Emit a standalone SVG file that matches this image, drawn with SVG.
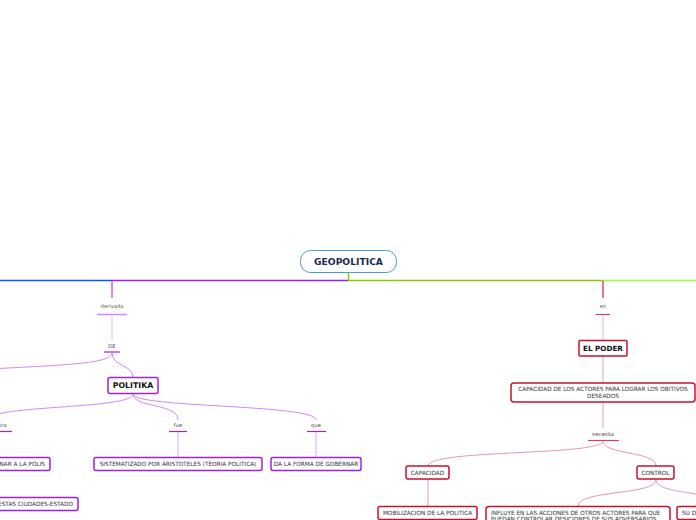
<svg xmlns="http://www.w3.org/2000/svg" width="696" height="520" viewBox="0 0 696 520">
<style>
text{font-family:"DejaVu Sans","Verdana",sans-serif;text-anchor:middle}
.lbl{font-size:5.2px;fill:#556655}
.bt{font-size:5.75px;fill:#333}
.pb{fill:#fff;stroke:#9d1ef0;stroke-width:1.5}
.rb{fill:#fff;stroke:#c8102e;stroke-width:1.5}
.pc{fill:none;stroke:#cc88ff;stroke-width:1}
.rc{fill:none;stroke:#e899a8;stroke-width:1}
</style>
<rect width="696" height="520" fill="#fff"/>
<g id="connectors">
<line x1="0" y1="280.5" x2="112" y2="280.5" stroke="#1155ee" stroke-width="1.5"/>
<line x1="112" y1="280.5" x2="348" y2="280.5" stroke="#9d1ef0" stroke-width="1.5"/>
<line x1="348" y1="280.5" x2="603" y2="280.5" stroke="#88c800" stroke-width="1.5"/>
<line x1="603" y1="280.5" x2="696" y2="280.5" stroke="#99ff33" stroke-width="1.5"/>
<line x1="348.5" y1="272" x2="348.5" y2="280" stroke="#88c800" stroke-width="1.5"/>
<line x1="112" y1="281" x2="112" y2="298" stroke="#bb66ff" stroke-width="1.5"/>
<line x1="97" y1="314.5" x2="127" y2="314.5" stroke="#cc88ff" stroke-width="1.5"/>
<line x1="112" y1="316" x2="112" y2="340" stroke="#e0b8ff" stroke-width="1"/>
<line x1="104" y1="352" x2="120" y2="352" stroke="#9d1ef0" stroke-width="1.2"/>
<path class="pc" d="M112,353 C112,364 60,365 -10,369"/>
<path class="pc" d="M112,353 C112,366 133,365 133,377"/>
<path class="pc" d="M133,394 C133,409 0,405 -10,418"/>
<path class="pc" d="M133,394 C133,408 178,403 178,420"/>
<path class="pc" d="M133,394 C133,408 316,404 316,420"/>
<line x1="-2" y1="431.5" x2="12" y2="431.5" stroke="#9d1ef0" stroke-width="1.2"/>
<line x1="169" y1="431.5" x2="187" y2="431.5" stroke="#9d1ef0" stroke-width="1.2"/>
<line x1="307" y1="431.5" x2="326" y2="431.5" stroke="#9d1ef0" stroke-width="1.2"/>
<line x1="178" y1="432" x2="178" y2="457" stroke="#d9a8ff" stroke-width="1"/>
<line x1="316" y1="432" x2="316" y2="457" stroke="#d9a8ff" stroke-width="1"/>
<line x1="603" y1="281" x2="603" y2="298" stroke="#cc5566" stroke-width="1.5"/>
<line x1="596" y1="314.5" x2="610" y2="314.5" stroke="#cc4466" stroke-width="1.2"/>
<line x1="603" y1="316" x2="603" y2="340" stroke="#f0b8c4" stroke-width="1"/>
<line x1="603" y1="356" x2="603" y2="383" stroke="#e8a0b0" stroke-width="1"/>
<line x1="603" y1="402" x2="603" y2="428" stroke="#e8a0b0" stroke-width="1"/>
<line x1="588" y1="440.5" x2="619" y2="440.5" stroke="#cc4466" stroke-width="1.2"/>
<path class="rc" d="M603,441 C603,456 428,449 428,466"/>
<path class="rc" d="M603,441 C603,455 656,451 656,466"/>
<line x1="428" y1="479" x2="428" y2="506" stroke="#e8a0b0" stroke-width="1"/>
<path class="rc" d="M656,480 C656,495 578,490 578,506"/>
<path class="rc" d="M656,480 C656,491 690,492 720,498"/>
</g>
<g id="geopolitica">
<rect x="300.5" y="250.5" width="96" height="22" rx="10" fill="#fff" stroke="#4a9ad6" stroke-width="1"/>
<text x="348.5" y="265.2" style="font-size:9.2px;font-weight:bold;fill:#1a2a55">GEOPOLITICA</text>
</g>
<g id="lbl-derivada"><text class="lbl" x="112" y="308">derivada</text></g>
<g id="lbl-de"><text class="lbl" x="112" y="348" style="fill:#444">DE</text></g>
<g id="politika">
<rect class="pb" x="108" y="377.5" width="50" height="16" rx="2"/>
<text x="133" y="388.3" style="font-size:7.8px;font-weight:bold;fill:#111">POLITIKA</text>
</g>
<g id="lbl-ica"><text class="lbl" x="3" y="427" style="fill:#444">ica</text></g>
<g id="lbl-fue"><text class="lbl" x="178" y="427" style="fill:#444">fue</text></g>
<g id="lbl-que"><text class="lbl" x="316" y="427" style="fill:#444">que</text></g>
<g id="polis">
<rect class="pb" x="-60" y="457.5" width="110" height="13" rx="2"/>
<text class="bt" x="45" y="466" style="text-anchor:end">NAR A LA POLIS</text>
</g>
<g id="sistematizado">
<rect class="pb" x="94" y="457.5" width="168" height="13" rx="2"/>
<text class="bt" x="178" y="466">SISTEMATIZADO POR ARISTOTELES  (TEORIA POLITICA)</text>
</g>
<g id="gobernar">
<rect class="pb" x="271" y="457.5" width="90" height="13" rx="2"/>
<text class="bt" x="316" y="466">DA LA FORMA DE GOBERNAR</text>
</g>
<g id="ciudades">
<rect class="pb" x="-60" y="497.5" width="138" height="13" rx="2"/>
<text class="bt" x="73" y="506" style="text-anchor:end">ESTAS CIUDADES-ESTADO</text>
</g>
<g id="lbl-en"><text class="lbl" x="603" y="308">en</text></g>
<g id="elpoder">
<rect class="rb" x="579" y="340.5" width="48" height="15.5" rx="1"/>
<text x="603" y="351" style="font-size:7.2px;font-weight:bold;fill:#111">EL PODER</text>
</g>
<g id="capacidad-actores">
<rect class="rb" x="511" y="383" width="184" height="19" rx="3"/>
<text class="bt" x="603" y="391">CAPACIDAD DE LOS ACTORES PARA LOGRAR LOS OBITIVOS</text>
<text class="bt" x="603" y="398">DESEADOS</text>
</g>
<g id="lbl-necesita"><text class="lbl" x="603" y="436" style="fill:#444">necesita</text></g>
<g id="capacidad">
<rect class="rb" x="406" y="466" width="43" height="13" rx="2"/>
<text class="bt" x="427.5" y="474.5">CAPACIDAD</text>
</g>
<g id="control">
<rect class="rb" x="637" y="466" width="37" height="13" rx="2"/>
<text class="bt" x="655.5" y="474.5">CONTROL</text>
</g>
<g id="mobilizacion">
<rect class="rb" x="378" y="506.5" width="99" height="13" rx="2"/>
<text class="bt" x="427.5" y="515">MOBILIZACION DE LA POLITICA</text>
</g>
<g id="influye">
<rect class="rb" x="486" y="506.5" width="184" height="20" rx="3"/>
<text class="bt" x="491" y="515" style="text-anchor:start">INFLUYE EN LAS ACCIONES DE OTROS ACTORES PARA QUE</text>
<text class="bt" x="491" y="521" style="text-anchor:start">PUEDAN CONTROLAR DESICIONES DE SUS ADVERSARIOS</text>
</g>
<g id="su">
<rect class="rb" x="677" y="506.5" width="60" height="13" rx="2"/>
<text class="bt" x="682" y="515" style="text-anchor:start">SU D</text>
</g>
</svg>
